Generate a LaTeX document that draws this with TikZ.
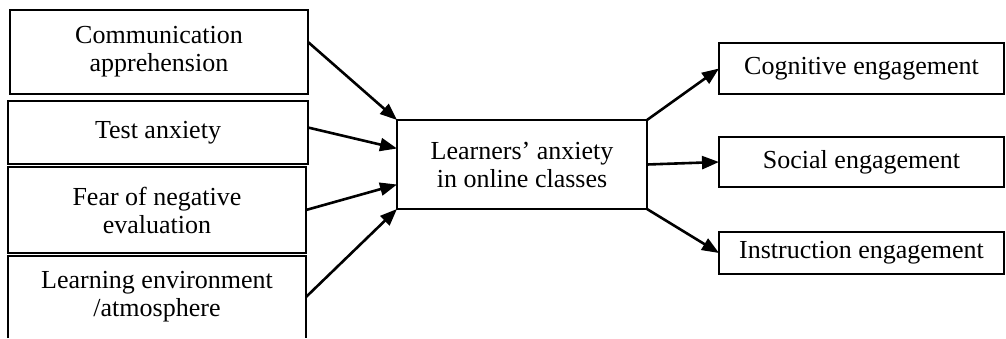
\documentclass[tikz,border=0pt]{standalone}
\usepackage{fontspec}
\setmainfont{Liberation Serif}
\usetikzlibrary{arrows.meta}
\tikzset{
    >={Triangle[length=8.5pt,width=6.5pt]},
    box/.style={draw, line width=1pt, inner sep=0pt, outer sep=0pt,
                anchor=north west, align=center,
                font=\fontsize{13}{14}\selectfont},
    open box/.style={box, draw=none},
    link/.style={line width=1.3pt, ->},
}

\begin{document}
\begin{tikzpicture}[x=0.5pt, y=-0.5pt]
\useasboundingbox (0,0) rectangle (1006,338);

% Sources of anxiety, stacked on the left.
\node[box, minimum width=149pt, minimum height=42pt] (comm) at (10,10)
    {Communication\\apprehension};
\node[box, minimum width=150pt, minimum height=31.5pt] (test) at (8,101)
    {Test anxiety};
\node[box, minimum width=149pt, minimum height=43pt] (fear) at (8,167)
    {Fear of negative\\evaluation};
\node[open box, minimum width=149pt, minimum height=41pt] (env) at (8,256)
    {Learning environment\\/atmosphere};
\draw[line width=1pt] (env.south west) -- (env.north west)
    -- (env.north east) -- (env.south east);

% Central construct.
\node[box, minimum width=125pt, minimum height=44.5pt] (anx) at (397,120)
    {Learners’ anxiety\\in online classes};

% Engagement outcomes on the right.
\node[box, minimum width=142.5pt, minimum height=25.5pt] (cog) at (719,43)
    {Cognitive engagement};
\node[box, minimum width=142.5pt, minimum height=25pt] (soc) at (719,137)
    {Social engagement};
\node[box, minimum width=142.5pt, minimum height=21pt] (ins) at (719,232)
    {Instruction engagement};

\draw[link] ([yshift=5pt]comm.east) -- (anx.north west);
\draw[link] ([yshift=2.5pt]test.east) -- ([yshift=8pt]anx.west);
\draw[link] (fear.east) -- ([yshift=-10pt]anx.west);
\draw[link] (env.east) -- (anx.south west);

\draw[link] (anx.north east) -- (cog.west);
\draw[link] (anx.east) -- (soc.west);
\draw[link] (anx.south east) -- (ins.west);

\end{tikzpicture}
\end{document}
